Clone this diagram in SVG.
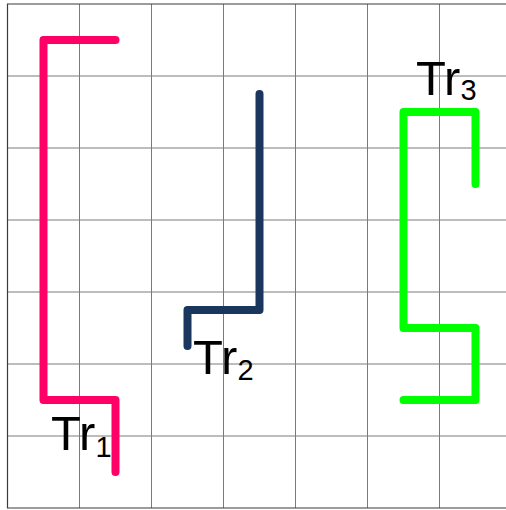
<svg xmlns="http://www.w3.org/2000/svg" width="506" height="510" viewBox="0 0 506 510">
  <style>
    .grid { stroke: #7a7a7a; stroke-width: 1; fill: none; }
    .frame { stroke: #3a3a3a; stroke-width: 1.2; fill: none; }
    .track { fill: none; stroke-width: 8; stroke-linecap: round; stroke-linejoin: round; }
    .label { font-family: "Liberation Sans", Arial, sans-serif; font-size: 49px; fill: #000; }
    .sub { font-size: 29px; }
  </style>
  <rect width="506" height="510" fill="#fff"/>
  <!-- 72px grid -->
  <g id="grid">
    <path class="grid" d="M79.5,4V508 M151.5,4V508 M223.5,4V508 M295.5,4V508 M367.5,4V508 M439.5,4V508
                          M7.5,76H506 M7.5,148H506 M7.5,220H506 M7.5,292H506 M7.5,364H506 M7.5,436H506"/>
    <path class="frame" d="M506,4H7.5V508H506"/>
  </g>
  <g id="connectors">
    <path id="tr1-path" class="track" stroke="#ff0066" d="M115.5,40H43.5V400H115.5V472"/>
    <path id="tr2-path" class="track" stroke="#1b365d" d="M259.5,94V310H187.5V346"/>
    <path id="tr3-path" class="track" stroke="#00ff00" d="M475.5,184V112H403.5V328H475.5V400H403.5"/>
  </g>
  <g id="tr1"><text class="label" x="51" y="450">Tr<tspan class="sub" dy="7">1</tspan></text></g>
  <g id="tr2"><text class="label" x="193" y="374">Tr<tspan class="sub" dy="6">2</tspan></text></g>
  <g id="tr3"><text class="label" x="416" y="95">Tr<tspan class="sub" dy="5">3</tspan></text></g>
</svg>
